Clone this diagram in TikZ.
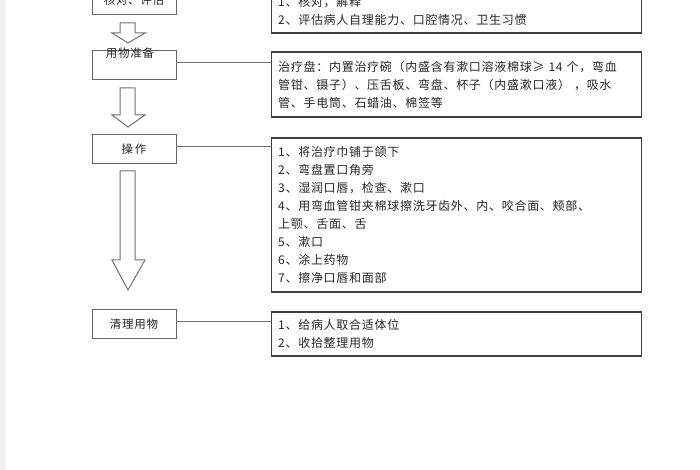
\documentclass[tikz,border=0pt]{standalone}
\usepackage{fontspec}
\newfontfamily\cjk[LetterSpace=6]{Noto Sans CJK SC}
\usetikzlibrary{positioning}
\tikzset{
x=1pt, y=1pt,
stepbox/.style={draw=black!60, line width=1pt, minimum width=84pt, minimum height=29pt, inner sep=0pt, font={\cjk\fontsize{11.5}{13}\selectfont}, text=black!85}, % left column
detailbox/.style={draw=black!75, line width=1.4pt, text width=356pt, inner xsep=7pt, inner ysep=0pt, align=left, font={\cjk\fontsize{12}{18}\selectfont}, text=black!85}, % right column
link/.style={draw=black!55, line width=0.8pt},
blockarrow/.style={draw=black!55, line width=1pt, fill=white, line join=miter},
}
% hollow arrow: top, neck, tip (x fixed)
\newcommand{\hollowarrow}[3]{\draw[blockarrow] (120,#1) -- (135,#1) -- (135,#2) -- (145,#2) -- (128,#3) -- (112,#2) -- (120,#2) -- cycle;}
\begin{document}
\begin{tikzpicture}
\clip (0,0) rectangle (700,470);
\fill[white] (0,0) rectangle (700,470);
\fill[black!5] (0,0) rectangle (6,470);

\node[stepbox] (check) at (134,469.5) {核对、评估};
\node[stepbox, below=35pt of check, label={[font={\cjk\fontsize{11.5}{13}\selectfont}, text=black!85, label distance=-12pt, xshift=-4pt]north:用物准备}] (prep) {};
\node[stepbox, below=54pt of prep] (operate) {操\,作};
\node[stepbox, below=145pt of operate] (clean) {清理用物};

\node[detailbox, minimum height=45pt, below right=2pt and 94pt of check.north east] (checkinfo) {1、核对，解释\\2、评估病人自理能力、口腔情况、卫生习惯};
\node[detailbox, minimum height=65pt, below right=1pt and 94pt of prep.north east] (prepinfo) {治疗盘：内置治疗碗（内盛含有漱口溶液棉球≥ 14 个，弯血\\管钳、镊子）、压舌板、弯盘、杯子（内盛漱口液） ，吸水\\管、手电筒、石蜡油、棉签等};
\node[detailbox, minimum height=154pt, below right=3pt and 94pt of operate.north east] (operateinfo) {1、将治疗巾铺于颌下\\2、弯盘置口角旁\\3、湿润口唇，检查、漱口\\4、用弯血管钳夹棉球擦洗牙齿外、内、咬合面、颊部、\\上颚、舌面、舌\\5、漱口\\6、涂上药物\\7、擦净口唇和面部};
\node[detailbox, minimum height=44pt, below right=2pt and 94pt of clean.north east] (cleaninfo) {1、给病人取合适体位\\2、收拾整理用物};

\draw[link] ([yshift=3pt]prep.east) -- ([yshift=3pt]prep.east -| prepinfo.west);
\draw[link] ([yshift=3pt]operate.east) -- ([yshift=3pt]operate.east -| operateinfo.west);
\draw[link] ([yshift=3pt]clean.east) -- ([yshift=3pt]clean.east -| cleaninfo.west);

\hollowarrow{447}{437}{427}
\hollowarrow{382}{355}{343}
\hollowarrow{299}{210}{180}
\end{tikzpicture}
\end{document}
